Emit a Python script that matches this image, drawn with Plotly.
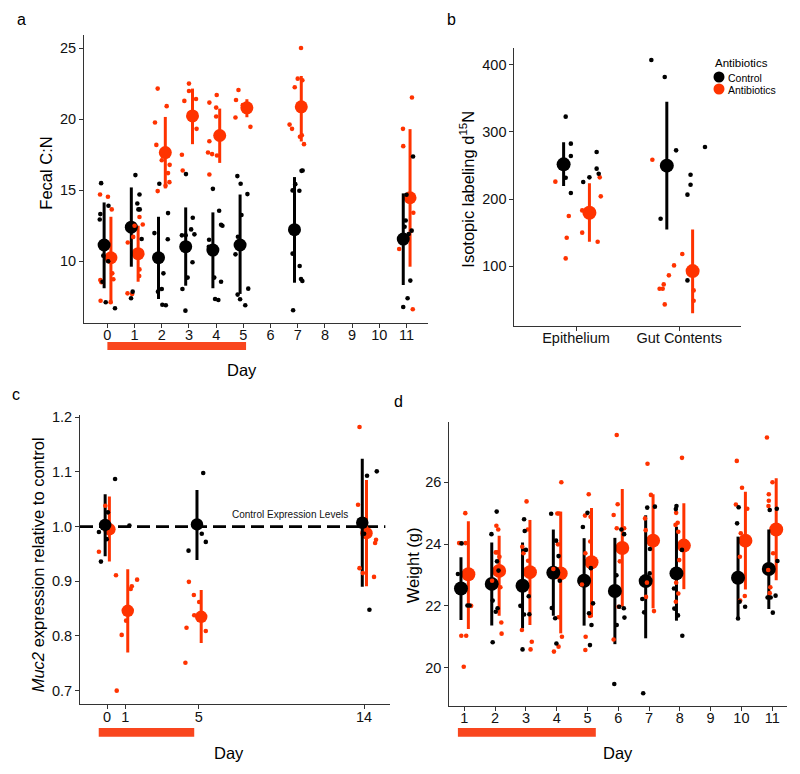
import plotly.graph_objects as go

BLACK = "#000000"
RED = "#FF3300"
BAR_RED = "#F9461E"
FONT = "Liberation Sans, Arial, Helvetica, sans-serif"

# ---------------- Panel a : Fecal C:N ----------------
a_days = [0, 1, 2, 3, 4, 5, 7, 11]
a_ctrl_mean = [11.13, 12.39, 10.23, 11.01, 10.77, 11.13, 12.21, 11.55]
a_ctrl_lo = [8.08, 9.60, 7.32, 8.26, 8.08, 7.68, 8.47, 8.31]
a_ctrl_hi = [14.13, 15.19, 13.12, 13.78, 13.43, 14.69, 15.92, 14.77]
a_abx_mean = [10.23, 10.52, 17.65, 20.23, 18.85, 20.80, 20.87, 14.46]
a_abx_lo = [7.02, 8.54, 15.12, 18.24, 16.92, 20.14, 18.43, 9.60]
a_abx_hi = [13.12, 12.49, 20.16, 22.16, 20.75, 21.41, 23.05, 19.30]
# individual animals: (day, jitter, value)
a_ctrl_pts = [
    (0, -0.23, 15.49), (0, 0.04, 13.90), (0, -0.26, 13.31), (0, -0.28, 12.93), (0, -0.15, 10.38),
    (0, -0.18, 8.54), (0, -0.06, 7.09), (0, 0.28, 6.67), (0, 0.03, 9.98),
    (1, 0.03, 16.06), (1, 0.18, 14.69), (1, 0.10, 14.06), (1, 0.19, 13.64), (1, 0.14, 13.64),
    (1, 0.26, 11.55), (1, -0.07, 7.84), (1, -0.13, 7.37),
    (2, -0.27, 11.97), (2, -0.09, 15.45), (2, 0.23, 13.38), (2, 0.22, 11.53), (2, 0.06, 9.13),
    (2, 0.00, 8.03), (2, -0.14, 7.84), (2, 0.02, 6.92), (2, 0.15, 6.88),
    (3, -0.11, 16.13), (3, 0.14, 13.05), (3, 0.08, 12.23), (3, 0.20, 11.88), (3, -0.26, 11.81),
    (3, -0.12, 11.81), (3, 0.13, 9.91), (3, -0.05, 8.83), (3, -0.24, 8.03), (3, -0.13, 6.50),
    (4, -0.12, 15.09), (4, 0.11, 13.54), (4, -0.26, 11.50), (4, 0.18, 12.56), (4, 0.23, 12.49),
    (4, -0.07, 8.83), (4, -0.04, 7.32), (4, 0.08, 7.25), (4, 0.18, 8.54), (4, -0.27, 11.01),
    (5, -0.22, 15.99), (5, -0.10, 15.45), (5, 0.15, 14.72), (5, -0.07, 13.24), (5, -0.20, 11.71),
    (5, -0.29, 10.47), (5, -0.21, 7.63), (5, -0.12, 7.30), (5, 0.18, 8.05), (5, 0.07, 6.88),
    (7, 0.14, 16.36), (7, 0.18, 16.38), (7, -0.09, 15.42), (7, -0.19, 14.98), (7, 0.06, 14.95),
    (7, -0.19, 10.52), (7, 0.07, 9.65), (7, 0.12, 8.73), (7, 0.17, 8.59), (7, -0.17, 6.53),
    (11, 0.24, 17.37), (11, 0.00, 14.67), (11, -0.03, 12.86), (11, -0.07, 12.42), (11, 0.19, 12.14),
    (11, 0.08, 11.90), (11, 0.14, 8.62), (11, 0.04, 7.37), (11, -0.12, 6.76),
]
a_abx_pts = [
    (0, -0.27, 14.69), (0, 0.02, 14.53), (0, 0.16, 13.64), (0, -0.26, 8.66), (0, -0.22, 8.50),
    (0, -0.25, 7.20), (0, 0.18, 9.13), (0, 0.22, 8.71), (0, 0.12, 7.10),
    (1, -0.25, 11.31), (1, 0.00, 12.49), (1, -0.05, 11.70), (1, 0.30, 12.58), (1, 0.18, 13.10),
    (1, -0.26, 7.72), (1, -0.09, 7.67), (1, 0.18, 9.41), (1, 0.17, 8.94),
    (2, -0.15, 22.16), (2, 0.18, 20.92), (2, -0.25, 19.77), (2, -0.20, 18.19), (2, 0.00, 17.11),
    (2, 0.29, 16.78), (2, 0.23, 16.20), (2, 0.28, 15.56), (2, 0.14, 15.30), (2, -0.15, 14.93),
    (3, 0.00, 22.51), (3, 0.00, 21.99), (3, -0.17, 21.29), (3, 0.26, 21.43), (3, 0.28, 19.32),
    (3, -0.26, 17.49), (3, -0.23, 16.38),
    (4, 0.02, 21.71), (4, -0.25, 21.17), (4, 0.00, 20.82), (4, 0.00, 20.19), (4, -0.25, 18.45),
    (4, -0.30, 17.65), (4, -0.15, 17.54), (4, 0.03, 17.44), (4, -0.25, 16.10),
    (5, -0.18, 22.06), (5, -0.27, 21.36), (5, -0.02, 20.99), (5, -0.29, 20.12), (5, 0.26, 19.46),
    (5, 0.12, 21.08), (5, 0.17, 20.63),
    (7, 0.12, 25.02), (7, 0.00, 22.86), (7, 0.17, 22.75), (7, -0.11, 22.25), (7, -0.30, 19.62),
    (7, -0.21, 19.32), (7, 0.08, 18.76), (7, 0.15, 18.87), (7, 0.23, 18.24),
    (11, 0.20, 21.53), (11, -0.13, 19.32), (11, -0.12, 18.10), (11, 0.25, 13.40), (11, -0.27, 10.85),
    (11, 0.23, 6.60),
]
a_xticks = list(range(0, 12))
a_yticks = [10, 15, 20, 25]
a_treatment = (0, 5.1)

# ---------------- Panel b : isotopic labeling ----------------
b_tissues = ["Epithelium", "Gut Contents"]
b_ctrl_mean = [251.7, 249.8]
b_ctrl_lo = [219.4, 154.7]
b_ctrl_hi = [284.6, 345.3]
b_abx_mean = [179.6, 92.5]
b_abx_lo = [136.3, 29.4]
b_abx_hi = [223.4, 154.7]
b_ctrl_pts = [
    (0, -0.10, 322.9), (0, -0.05, 282.6), (0, -0.05, 264.2), (0, -0.10, 231.8), (0, -0.05, 209.0),
    (0, 0.07, 225.4), (0, 0.13, 232.3), (0, 0.20, 270.1), (0, 0.20, 245.3), (0, 0.22, 237.8),
    (1, -0.27, 407.5), (1, -0.14, 382.1), (1, -0.03, 272.6), (1, 0.25, 277.6), (1, -0.18, 170.6),
    (1, 0.11, 236.3), (1, 0.11, 221.4), (1, 0.08, 206.5), (1, 0.08, 78.6),
]
b_abx_pts = [
    (0, -0.20, 225.9), (0, -0.07, 174.6), (0, -0.09, 142.3), (0, -0.10, 111.4), (0, 0.06, 149.8),
    (0, 0.21, 136.3), (0, 0.24, 204.0), (0, 0.23, 232.3), (0, 0.06, 183.0),
    (1, -0.26, 258.7), (1, 0.03, 117.9), (1, -0.05, 101.0), (1, -0.10, 86.1), (1, -0.15, 72.6),
    (1, -0.19, 66.2), (1, -0.16, 66.2), (1, -0.14, 42.8), (1, 0.14, 63.7), (1, 0.14, 48.3),
]
b_yticks = [100, 200, 300, 400]

# ---------------- Panel c : Muc2 expression ----------------
c_ctrl_days = [0, 5, 14]
c_ctrl_mean = [1.003, 1.004, 1.007]
c_ctrl_lo = [0.946, 0.939, 0.890]
c_ctrl_hi = [1.059, 1.067, 1.124]
c_abx_days = [0, 1, 5, 14]
c_abx_mean = [0.995, 0.846, 0.835, 0.988]
c_abx_lo = [0.936, 0.770, 0.787, 0.891]
c_abx_hi = [1.055, 0.922, 0.884, 1.085]
c_ctrl_pts = [
    (0, 0.44, 1.087), (0, 0.05, 1.026), (0, -0.44, 0.990), (0, -0.33, 0.936), (0, -0.02, 0.977),
    (0, 1.22, 1.002),
    (5, 0.24, 1.098), (5, 0.16, 0.987), (5, 0.38, 0.972), (5, -0.56, 0.956),
    (14, 0.69, 1.101), (14, 0.16, 1.093), (14, 0.00, 0.987), (14, 0.29, 0.848),
]
c_abx_pts = [
    (0, -0.44, 0.954), (0, -0.09, 1.038),
    (1, -0.51, 0.911), (1, 0.64, 0.903), (1, 0.35, 0.891), (1, 0.29, 0.886), (1, -0.20, 0.802),
    (1, 0.04, 0.828), (1, -0.47, 0.700),
    (5, -0.54, 0.899), (5, -0.27, 0.875), (5, 0.02, 0.862), (5, -0.25, 0.838), (5, 0.38, 0.809),
    (5, -0.67, 0.815), (5, -0.73, 0.751),
    (14, -0.25, 1.182), (14, -0.33, 1.040), (14, 0.65, 0.976), (14, 0.60, 0.970), (14, -0.25, 0.924),
    (14, -0.07, 0.915), (14, 0.54, 0.908),
]
c_xticks = [0, 1, 5, 14]
c_yticks = [0.7, 0.8, 0.9, 1.0, 1.1, 1.2]
c_control_level = 1.0
c_treatment = (-0.45, 4.75)

# ---------------- Panel d : body weight ----------------
d_days = [1, 2, 3, 4, 5, 6, 7, 8, 10, 11]
d_ctrl_mean = [22.56, 22.71, 22.65, 23.07, 22.81, 22.48, 22.80, 23.05, 22.91, 23.19]
d_ctrl_lo = [21.54, 21.36, 21.27, 21.68, 21.36, 20.76, 20.95, 21.52, 21.57, 21.90]
d_ctrl_hi = [23.57, 24.05, 24.05, 24.47, 24.19, 24.20, 24.93, 24.56, 24.24, 24.47]
d_abx_mean = [23.02, 23.13, 23.09, 23.05, 23.41, 23.87, 24.11, 23.95, 24.11, 24.47]
d_abx_lo = [21.25, 21.68, 21.38, 21.11, 21.63, 21.97, 21.92, 22.54, 22.53, 22.83]
d_abx_hi = [24.74, 24.27, 24.78, 25.05, 25.17, 25.78, 25.61, 25.32, 25.69, 26.13]
d_ctrl_pts = [
    (1, -0.21, 23.03), (1, -0.09, 24.02), (1, 0.10, 22.01), (1, 0.17, 22.01),
    (2, 0.05, 25.05), (2, -0.12, 24.32), (2, 0.06, 23.44), (2, 0.11, 23.14), (2, -0.08, 22.17),
    (2, 0.02, 21.81), (2, 0.08, 21.92), (2, -0.08, 20.82),
    (3, -0.06, 24.80), (3, -0.04, 24.42), (3, 0.00, 23.81), (3, -0.18, 22.00), (3, -0.06, 21.72),
    (3, 0.09, 22.31), (3, 0.11, 21.73), (3, -0.11, 20.59),
    (4, -0.18, 24.98), (4, -0.02, 24.11), (4, 0.06, 23.61), (4, -0.16, 21.93), (4, -0.05, 21.60),
    (4, -0.01, 20.78), (4, 0.10, 22.81),
    (5, -0.15, 24.55), (5, 0.00, 25.01), (5, 0.11, 23.22), (5, 0.18, 22.08), (5, 0.05, 21.76),
    (5, 0.13, 21.38), (5, 0.08, 20.73),
    (6, 0.10, 24.47), (6, 0.19, 24.32), (6, -0.06, 22.99), (6, 0.03, 21.97), (6, -0.05, 21.38),
    (6, 0.18, 21.92), (6, 0.20, 21.62), (6, -0.13, 19.47),
    (7, -0.06, 25.18), (7, 0.19, 25.21), (7, 0.03, 23.84), (7, 0.02, 23.05), (7, -0.22, 22.22),
    (7, -0.16, 21.79), (7, -0.19, 19.17),
    (8, -0.11, 25.23), (8, -0.13, 25.13), (8, 0.07, 23.81), (8, -0.19, 22.56), (8, -0.18, 21.91),
    (8, -0.06, 21.69), (8, 0.08, 21.03),
    (10, -0.14, 24.67), (10, -0.09, 25.19), (10, -0.04, 22.96), (10, -0.06, 22.13), (10, 0.12, 21.97),
    (10, -0.11, 21.59),
    (11, 0.15, 25.14), (11, -0.08, 25.10), (11, 0.17, 23.45), (11, -0.15, 22.27), (11, -0.05, 22.27),
    (11, 0.11, 22.33), (11, 0.02, 21.78),
]
d_abx_pts = [
    (1, 0.03, 25.00), (1, -0.17, 24.03), (1, 0.04, 24.03), (1, -0.10, 21.03), (1, 0.06, 21.03),
    (1, -0.02, 20.03), (1, 0.22, 22.00),
    (2, 0.04, 24.59), (2, 0.10, 24.47), (2, 0.07, 23.73), (2, 0.02, 23.73), (2, 0.14, 23.59),
    (2, -0.10, 22.81), (2, 0.17, 22.60), (2, 0.20, 21.46), (2, 0.21, 21.10),
    (3, 0.02, 25.38), (3, 0.06, 24.47), (3, -0.12, 23.91), (3, -0.08, 23.70), (3, -0.13, 21.22),
    (3, 0.19, 20.84), (3, 0.15, 20.59), (3, 0.07, 23.46),
    (4, 0.15, 26.00), (4, 0.02, 24.99), (4, 0.07, 24.99), (4, 0.04, 23.99), (4, -0.11, 23.19),
    (4, 0.06, 21.63), (4, -0.09, 20.52), (4, 0.06, 20.68), (4, 0.17, 21.00),
    (5, 0.04, 25.61), (5, -0.08, 24.92), (5, 0.10, 24.88), (5, 0.09, 24.08), (5, -0.07, 23.70),
    (5, -0.18, 22.69), (5, -0.06, 21.00), (5, -0.07, 20.57), (5, 0.08, 21.67),
    (6, -0.05, 27.53), (6, -0.02, 25.29), (6, -0.15, 24.94), (6, -0.05, 24.51), (6, 0.19, 24.51),
    (6, 0.05, 23.44), (6, 0.01, 21.97), (6, -0.15, 20.91),
    (7, -0.05, 26.60), (7, 0.06, 25.59), (7, -0.13, 24.83), (7, -0.11, 24.45), (7, -0.10, 22.29),
    (7, 0.16, 21.83), (7, -0.07, 22.75),
    (8, 0.07, 26.79), (8, -0.12, 25.01), (8, -0.07, 24.69), (8, -0.14, 24.62), (8, -0.05, 24.40),
    (8, -0.02, 23.48), (8, -0.12, 22.75), (8, -0.05, 22.40), (8, -0.13, 22.13),
    (10, -0.15, 26.69), (10, 0.02, 25.82), (10, -0.18, 25.28), (10, 0.19, 25.14), (10, -0.02, 24.35),
    (10, -0.05, 23.59), (10, -0.04, 22.17), (10, 0.11, 22.32),
    (11, -0.17, 27.45), (11, 0.01, 26.00), (11, -0.11, 25.61), (11, -0.11, 25.40), (11, -0.12, 25.23),
    (11, 0.03, 23.70), (11, -0.13, 23.16), (11, -0.06, 22.60), (11, -0.08, 22.41),
]
d_xticks = list(range(1, 12))
d_yticks = [20, 22, 24, 26]
d_treatment = (0.79, 5.27)

legend_title = "Antibiotics"
legend_labels = ["Control", "Antibiotics"]

# ------------------------------------------------------------
fig = go.Figure()


def add_means(xa, ya, xs, means, lo, hi, color, size):
    fig.add_trace(go.Scatter(
        x=xs, y=means, mode="markers", xaxis=xa, yaxis=ya, showlegend=False,
        marker=dict(size=size, color=color, line=dict(width=0)),
        error_y=dict(type="data", symmetric=False,
                     array=[h - m for h, m in zip(hi, means)],
                     arrayminus=[m - l for m, l in zip(means, lo)],
                     thickness=3, width=0, color=color),
        hoverinfo="skip"))


def add_pts(xa, ya, pts, color, pos=None):
    if pos is None:
        xs = [d + j for d, j, v in pts]
    else:
        xs = [pos[d] + j for d, j, v in pts]
    fig.add_trace(go.Scatter(
        x=xs, y=[v for d, j, v in pts], mode="markers", xaxis=xa, yaxis=ya,
        showlegend=False, marker=dict(size=4.6, color=color, line=dict(width=0)),
        hoverinfo="skip"))


# panel a
add_means("x", "y", [d + 0.13 for d in a_days], a_abx_mean, a_abx_lo, a_abx_hi, RED, 13)
add_means("x", "y", [d - 0.12 for d in a_days], a_ctrl_mean, a_ctrl_lo, a_ctrl_hi, BLACK, 13)
add_pts("x", "y", a_abx_pts, RED)
add_pts("x", "y", a_ctrl_pts, BLACK)

# panel b
b_pos = [1, 2]
add_means("x2", "y2", [p + 0.13 for p in b_pos], b_abx_mean, b_abx_lo, b_abx_hi, RED, 14)
add_means("x2", "y2", [p - 0.12 for p in b_pos], b_ctrl_mean, b_ctrl_lo, b_ctrl_hi, BLACK, 14)
add_pts("x2", "y2", b_abx_pts, RED, pos=b_pos)
add_pts("x2", "y2", b_ctrl_pts, BLACK, pos=b_pos)

# panel c
add_means("x3", "y3", [d + 0.13 for d in c_abx_days], c_abx_mean, c_abx_lo, c_abx_hi, RED, 12.5)
add_means("x3", "y3", [d - 0.1 for d in c_ctrl_days], c_ctrl_mean, c_ctrl_lo, c_ctrl_hi, BLACK, 12.5)
add_pts("x3", "y3", c_abx_pts, RED)
add_pts("x3", "y3", c_ctrl_pts, BLACK)

# panel d
add_means("x4", "y4", [d + 0.13 for d in d_days], d_abx_mean, d_abx_lo, d_abx_hi, RED, 14)
add_means("x4", "y4", [d - 0.11 for d in d_days], d_ctrl_mean, d_ctrl_lo, d_ctrl_hi, BLACK, 14)
add_pts("x4", "y4", d_abx_pts, RED)
add_pts("x4", "y4", d_ctrl_pts, BLACK)

TICKFONT = dict(family=FONT, size=14.5, color="#111")
axis_common = dict(showline=True, linecolor="#333", linewidth=1, ticks="outside", ticklen=4,
                   tickwidth=1, tickcolor="#333", showgrid=False, zeroline=False,
                   tickfont=TICKFONT, fixedrange=True, automargin=False)
xaxis_common = dict(axis_common, ticklabelstandoff=-5)

fig.update_layout(
    template="none",
    width=800, height=774, margin=dict(l=0, r=0, t=0, b=0, pad=0), autosize=False,
    paper_bgcolor="white", plot_bgcolor="white", showlegend=False,
    font=dict(family=FONT, color="black"),
    xaxis=dict(domain=[0.105, 0.535], anchor="y", range=[-0.86, 11.79],
               tickvals=a_xticks, ticktext=[str(t) for t in a_xticks], **xaxis_common),
    yaxis=dict(domain=[0.5827, 0.9548], anchor="x", range=[5.63, 25.94],
               tickvals=a_yticks, **axis_common),
    xaxis2=dict(domain=[0.643, 0.926], anchor="y2", range=[0.403, 2.597],
                tickvals=b_pos, ticktext=b_tissues, **xaxis_common),
    yaxis2=dict(domain=[0.5792, 0.9384], anchor="x2", range=[11, 425.8],
                tickvals=b_yticks, **axis_common),
    xaxis3=dict(domain=[0.1, 0.4875], anchor="y3", range=[-1.47, 15.41],
                tickvals=c_xticks, ticktext=[str(t) for t in c_xticks], **xaxis_common),
    yaxis3=dict(domain=[0.09, 0.4638], anchor="x3", range=[0.675, 1.204],
                tickvals=c_yticks, tickformat=".1f", **axis_common),
    xaxis4=dict(domain=[0.5616, 0.9841], anchor="y4", range=[0.51, 11.49],
                tickvals=d_xticks, ticktext=[str(t) for t in d_xticks], **xaxis_common),
    yaxis4=dict(domain=[0.0879, 0.4544], anchor="x4", range=[18.76, 27.94],
                tickvals=d_yticks, **axis_common),
)

shapes = []
# treatment bars below the x-axes
shapes.append(dict(type="rect", xref="x", yref="paper", x0=a_treatment[0], x1=a_treatment[1],
                   y0=0.5478, y1=0.5581, fillcolor=BAR_RED, line=dict(width=0), layer="above"))
shapes.append(dict(type="rect", xref="x3", yref="paper", x0=c_treatment[0], x1=c_treatment[1],
                   y0=0.0482, y1=0.0594, fillcolor=BAR_RED, line=dict(width=0), layer="above"))
shapes.append(dict(type="rect", xref="x4", yref="paper", x0=d_treatment[0], x1=d_treatment[1],
                   y0=0.0482, y1=0.0594, fillcolor=BAR_RED, line=dict(width=0), layer="above"))
# control expression level
shapes.append(dict(type="line", xref="x3 domain", yref="y3", x0=0, x1=0.985,
                   y0=c_control_level, y1=c_control_level,
                   line=dict(color="black", width=2.6, dash="13px,6px"), layer="below"))
# legend keys
for i, col in enumerate([BLACK, RED]):
    cy = 1 - (77 + 12 * i) / 774
    shapes.append(dict(type="circle", xref="paper", yref="paper", xsizemode="pixel",
                       ysizemode="pixel", xanchor=719 / 800, yanchor=cy,
                       x0=-5.5, x1=5.5, y0=-5.5, y1=5.5, fillcolor=col, line=dict(width=0)))
fig.update_layout(shapes=shapes)

ann = []


def txt(x, y, s, size, angle=0, xanchor="center", yanchor="middle", color="black"):
    ann.append(dict(x=x, y=y, xref="paper", yref="paper", text=s, showarrow=False,
                    textangle=angle, xanchor=xanchor, yanchor=yanchor,
                    font=dict(family=FONT, size=size, color=color)))


TITLE = 16.5
# panel letters
txt(21.7 / 800, 1 - 19.3 / 774, "a", 16)
txt(451.7 / 800, 1 - 19.3 / 774, "b", 16)
txt(16 / 800, 1 - 394 / 774, "c", 16)
txt(398 / 800, 1 - 401 / 774, "d", 16)
# axis titles
txt(242 / 800, 1 - 370 / 774, "Day", TITLE)
txt(45.7 / 800, 1 - 173 / 774, "Fecal C:N", TITLE, angle=-90)
txt(466.7 / 800, 1 - 189 / 774, "Isotopic labeling d<sup>15</sup>N", TITLE, angle=-90)
txt(38.3 / 800, 1 - 565 / 774, "<i>Muc2</i> expression relative to control", TITLE, angle=-90)
txt(229 / 800, 1 - 752.7 / 774, "Day", TITLE)
txt(413.3 / 800, 1 - 565 / 774, "Weight (g)", TITLE, angle=-90)
txt(618 / 800, 1 - 752.7 / 774, "Day", TITLE)
# legend text
txt(713.3 / 800, 1 - 63 / 774, legend_title, 11.5, xanchor="left")
txt(726 / 800, 1 - 77.5 / 774, legend_labels[0], 10.5, xanchor="left")
txt(726 / 800, 1 - 89.5 / 774, legend_labels[1], 10.5, xanchor="left")
# reference line label
ann.append(dict(x=9.97, y=1.023, xref="x3", yref="y3", text="Control Expression Levels",
                showarrow=False, font=dict(family=FONT, size=10, color="#111")))
fig.update_layout(annotations=ann)

fig.write_html(
    "out.html",
    config={"displayModeBar": False, "staticPlot": True},
    post_script="document.body.style.margin='0px';document.body.style.overflow='hidden';",
)
